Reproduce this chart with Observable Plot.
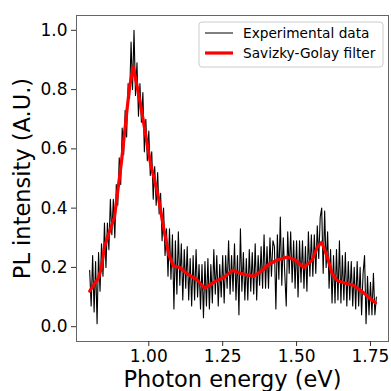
<!DOCTYPE html>
<html>
<head>
<meta charset="utf-8">
<script src="https://cdn.jsdelivr.net/npm/d3@7"></script>
<script src="https://cdn.jsdelivr.net/npm/@observablehq/plot@0.6"></script>
<style>
  html, body { margin: 0; padding: 0; background: white; }
  svg { font-family: "DejaVu Sans", sans-serif; }
</style>
</head>
<body>
<div id="chart"></div>
<script>
// Experimental PL spectrum, sampled every 0.005 eV starting at 0.800 eV
const energyStart = 0.800;
const energyStep = 0.005;
const experimental = [
  0.19,0.07,0.24,0.05,0.22,0.01,0.25,0.12,0.28,0.17,
  0.35,0.20,0.35,0.26,0.43,0.31,0.43,0.30,0.48,0.41,
  0.57,0.48,0.67,0.58,0.73,0.64,0.82,0.77,0.96,0.80,
  1.00,0.78,0.89,0.71,0.82,0.69,0.79,0.59,0.70,0.56,
  0.66,0.51,0.59,0.43,0.54,0.41,0.52,0.38,0.45,0.29,
  0.40,0.24,0.33,0.17,0.33,0.16,0.31,0.06,0.29,0.11,
  0.32,0.14,0.28,0.09,0.26,0.13,0.27,0.09,0.23,0.07,
  0.24,0.09,0.26,0.10,0.21,0.06,0.21,0.03,0.22,0.07,
  0.23,0.06,0.21,0.08,0.26,0.11,0.24,0.07,0.21,0.10,
  0.24,0.08,0.24,0.13,0.29,0.11,0.24,0.12,0.28,0.09,
  0.24,0.04,0.33,0.12,0.25,0.09,0.23,0.09,0.26,0.12,
  0.25,0.11,0.28,0.09,0.24,0.14,0.27,0.13,0.31,0.13,
  0.27,0.13,0.30,0.17,0.29,0.27,0.06,0.31,0.16,0.37,
  0.14,0.30,0.18,0.07,0.32,0.18,0.32,0.15,0.29,0.13,
  0.29,0.10,0.29,0.15,0.29,0.13,0.27,0.12,0.32,0.17,
  0.31,0.17,0.31,0.18,0.34,0.23,0.37,0.40,0.18,0.39,
  0.20,0.32,0.13,0.26,0.08,0.24,0.08,0.26,0.09,0.29,
  0.08,0.24,0.09,0.25,0.07,0.22,0.09,0.22,0.07,0.20,
  0.06,0.22,0.07,0.20,0.04,0.18,0.24,0.01,0.17,0.04,
  0.15,0.04,0.18,0.04,0.10
];

// Savitzky-Golay smoothed curve
const sgEnergy = [0.800,0.810,0.820,0.830,0.840,0.850,0.865,0.884,0.894,0.908,0.925,0.935,0.948,0.972,0.989,1.006,1.030,1.050,1.067,1.083,1.104,1.128,1.161,1.189,1.206,1.229,1.253,1.283,1.310,1.354,1.385,1.405,1.435,1.469,1.496,1.523,1.553,1.570,1.585,1.604,1.620,1.638,1.672,1.692,1.726,1.767];
const sgValue  = [0.12,0.135,0.15,0.165,0.20,0.27,0.315,0.37,0.45,0.56,0.72,0.81,0.875,0.75,0.65,0.55,0.45,0.335,0.245,0.205,0.20,0.18,0.16,0.13,0.14,0.155,0.165,0.19,0.18,0.17,0.19,0.21,0.225,0.235,0.225,0.20,0.225,0.268,0.285,0.235,0.18,0.155,0.145,0.14,0.115,0.08];

const xTicks = [1.00, 1.25, 1.50, 1.75];
const yTicks = [0.0, 0.2, 0.4, 0.6, 0.8, 1.0];
const xLabel = "Photon energy (eV)";
const yLabel = "PL intensity (A.U.)";
const legendLabels = ["Experimental data", "Savizky-Golay filter"];

const expData = experimental.map((v, i) => ({e: +(energyStart + i * energyStep).toFixed(3), v}));
const sgData = sgEnergy.map((e, i) => ({e, v: sgValue[i]}));

const chart = Plot.plot({
  width: 391,
  height: 391,
  marginLeft: 76,
  marginRight: 3,
  marginTop: 15,
  marginBottom: 50,
  style: {fontFamily: "DejaVu Sans, sans-serif", color: "black", background: "white"},
  x: {domain: [0.7554, 1.811]},
  y: {domain: [-0.05, 1.05]},
  marks: [
    Plot.line(expData, {x: "e", y: "v", stroke: "black", strokeWidth: 1.1}),
    Plot.line(sgData, {x: "e", y: "v", stroke: "red", strokeWidth: 3.2}),
    Plot.frame({stroke: "#666", strokeWidth: 1}),
    Plot.axisX({ticks: xTicks, tickFormat: d3.format(".2f"), tickSize: 5, tickPadding: 3, fontSize: 17, label: null, stroke: "#333"}),
    Plot.axisY({ticks: yTicks, tickFormat: d3.format(".1f"), tickSize: 5, tickPadding: 4, fontSize: 17, label: null, stroke: "#333"}),
    Plot.text([xLabel], {frameAnchor: "bottom", textAnchor: "middle", lineAnchor: "bottom", dy: 45, fontSize: 22.5, fill: "black"}),
    Plot.text([yLabel], {frameAnchor: "left", textAnchor: "middle", lineAnchor: "bottom", rotate: -90, dx: -46.5, fontSize: 22.5, fill: "black"})
  ]
});

// Legend (matplotlib-style box in the upper right)
const svg = d3.select(chart);
const lg = svg.append("g").attr("text-anchor", "start");
lg.append("rect").attr("x", 199).attr("y", 22).attr("width", 184).attr("height", 45)
  .attr("rx", 3).attr("fill", "white").attr("fill-opacity", 0.8).attr("stroke", "#ccc");
const entries = [{c: "black", w: 1, y: 33}, {c: "red", w: 3.2, y: 53}];
entries.forEach((en, i) => {
  lg.append("line").attr("x1", 205).attr("x2", 233).attr("y1", en.y).attr("y2", en.y)
    .attr("stroke", en.c).attr("stroke-width", en.w);
  lg.append("text").attr("x", 243).attr("y", en.y + 5).attr("font-size", 13.7)
    .attr("text-anchor", "start").attr("fill", "black").text(legendLabels[i]);
});

document.getElementById("chart").appendChild(chart);
</script>
</body>
</html>
